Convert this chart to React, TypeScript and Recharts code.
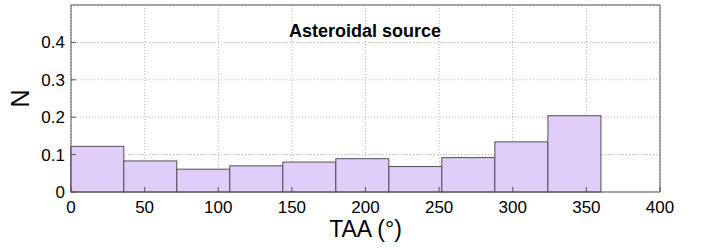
import React from 'react';
import { ComposedChart, Bar, XAxis, YAxis, CartesianGrid, Label } from 'recharts';

// histogram of true anomaly angle, 36 deg bins
const binEdges = [0, 36, 72, 108, 144, 180, 216, 252, 288, 324, 360];
const counts = [0.122, 0.083, 0.061, 0.07, 0.08, 0.089, 0.068, 0.092, 0.134, 0.204];
const xTicks = [0, 50, 100, 150, 200, 250, 300, 350, 400];
const yTicks = [0, 0.1, 0.2, 0.3, 0.4];

const W = 702;
const H = 249;
const margin = { top: 4, right: 41, bottom: 0, left: 0 };
const yAxisW = 71;
const xDomain = [0, 400];
const plotW = W - margin.left - margin.right - yAxisW - 1;
const binW = binEdges[1] - binEdges[0];
const barPx = (binW / (xDomain[1] - xDomain[0])) * plotW;

const data = counts.map((n, i) => ({
  taa: (binEdges[i] + binEdges[i + 1]) / 2,
  n,
}));

const font = 'Arial, "Liberation Sans", Helvetica, sans-serif';
const axisColor = '#555555';

// full-width bin, centred on the bin centre the library placed
const BinShape = (props: any) => {
  const { x, y, width, height } = props;
  if (!height) return null;
  const cx = x + width / 2;
  return (
    <rect
      x={cx - barPx / 2}
      y={y}
      width={barPx}
      height={height}
      fill="#e0cdf9"
      stroke="#505050"
      strokeWidth={1}
    />
  );
};

const YTitle = (props: any) => {
  const { x, y, height } = props.viewBox;
  const cx = x + 20;
  const cy = y + height / 2;
  return (
    <text
      x={cx}
      y={cy}
      transform={`rotate(-90 ${cx} ${cy})`}
      textAnchor="middle"
      dominantBaseline="central"
      fontSize={25}
      fontFamily={font}
      fill="#000"
    >
      N
    </text>
  );
};

const XTitle = (props: any) => {
  const { x, y, width } = props.viewBox;
  return (
    <text
      x={x + width / 2}
      y={y + 45}
      textAnchor="middle"
      fontSize={23}
      fontFamily={font}
      fill="#000"
    >
      TAA (°)
    </text>
  );
};

const App = () => {
  return (
    <div style={{ position: 'absolute', left: 0, top: 0, width: W, height: H, background: '#fff' }}>
      <ComposedChart width={W} height={H} data={data} margin={margin}>
        <CartesianGrid stroke="#b5b5b5" strokeDasharray="1 2" />
        <XAxis
          dataKey="taa"
          type="number"
          domain={xDomain}
          ticks={xTicks}
          interval={0}
          height={57}
          stroke={axisColor}
          tickSize={-5}
          tickMargin={14}
          tick={{ fill: '#000', fontSize: 17, fontFamily: font }}
        >
          <Label content={XTitle} />
        </XAxis>
        <XAxis
          xAxisId="top"
          orientation="top"
          type="number"
          domain={xDomain}
          ticks={xTicks}
          interval={0}
          height={1}
          stroke={axisColor}
          tickSize={-5}
          tick={false}
        />
        <YAxis
          type="number"
          domain={[0, 0.5]}
          ticks={yTicks}
          interval={0}
          width={yAxisW}
          stroke={axisColor}
          tickSize={-5}
          tickMargin={11}
          tick={{ fill: '#000', fontSize: 17, fontFamily: font }}
        >
          <Label content={YTitle} />
        </YAxis>
        <YAxis
          yAxisId="right"
          orientation="right"
          type="number"
          domain={[0, 0.5]}
          ticks={yTicks}
          interval={0}
          width={1}
          stroke={axisColor}
          tickSize={-5}
          tick={false}
        />
        <Bar
          dataKey="n"
          shape={BinShape}
          isAnimationActive={false}
        />
      </ComposedChart>
      <div
        style={{
          position: 'absolute',
          left: 365,
          top: 20,
          transform: 'translateX(-50%)',
          fontFamily: font,
          fontWeight: 'bold',
          fontSize: 18,
          whiteSpace: 'nowrap',
          lineHeight: '22px',
        }}
      >
        Asteroidal source
      </div>
    </div>
  );
};

export default App;
